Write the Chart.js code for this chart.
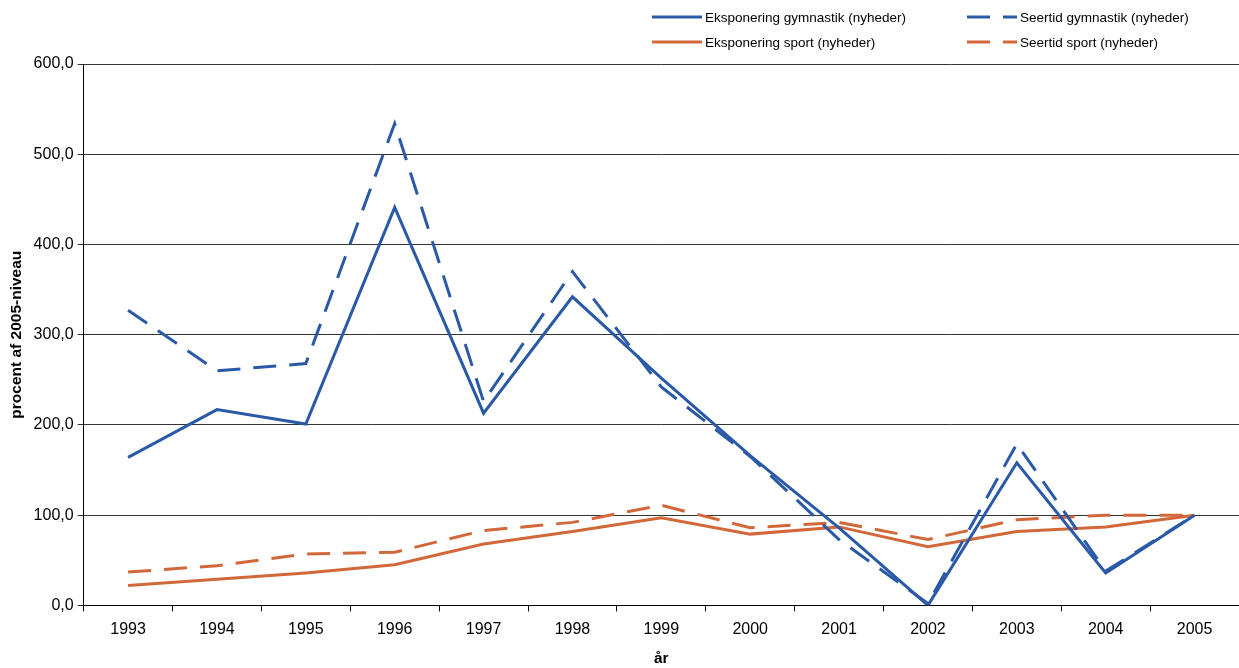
<!DOCTYPE html>
<html>
<head>
<meta charset="utf-8">
<script src="https://cdn.jsdelivr.net/npm/chart.js@4/dist/chart.umd.min.js"></script>
<style>
  html, body { margin: 0; padding: 0; background: #fff; }
  #wrap { width: 1239px; height: 668px; position: relative; }
</style>
</head>
<body>
<div id="wrap"><canvas id="chart"></canvas></div>
<script>
var years = ['1993', '1994', '1995', '1996', '1997', '1998', '1999', '2000', '2001', '2002', '2003', '2004', '2005'];

// procent af 2005-niveau
var eksGym    = [164, 217, 201, 441, 213, 342, 252, 166, 86, 0, 158, 36, 100];
var seerGym   = [327, 260, 268, 534, 226, 370, 242, 165, 73, 2, 179, 38, 100];
var eksSport  = [22, 29, 36, 45, 68, 82, 97, 79, 87, 65, 82, 87, 100];
var seerSport = [37, 44, 57, 59, 83, 92, 111, 86, 92, 73, 95, 100, 100];

var blue = '#2A5AA7';
var orange = '#D2683A';
var dash = [23, 13];
var font = '"Liberation Sans", Arial, sans-serif';

function line(label, values, color, dashed) {
  return {
    label: label,
    data: values,
    borderColor: color,
    backgroundColor: color,
    borderWidth: 3,
    borderDash: dashed ? dash : [],
    pointRadius: 0,
    tension: 0,
    fill: false
  };
}

// legend in two columns, like the original
var legendPlugin = {
  id: 'twoColLegend',
  afterDraw: function(chart) {
    var c = chart.ctx;
    var cols = [652, 967];
    var rows = [17, 42];
    c.save();
    c.font = '13.5px ' + font;
    c.textBaseline = 'middle';
    c.fillStyle = '#000';
    chart.data.datasets.forEach(function(ds, i) {
      var x = cols[i % 2], y = rows[Math.floor(i / 2)];
      c.strokeStyle = ds.borderColor;
      c.lineWidth = 3;
      c.setLineDash(ds.borderDash);
      c.beginPath();
      c.moveTo(x, y);
      c.lineTo(x + 50, y);
      c.stroke();
      c.setLineDash([]);
      c.fillText(ds.label, x + 53, y + 1);
    });
    c.restore();
  }
};

var ctx = document.getElementById('chart').getContext('2d');
var chart = new Chart(ctx, {
  type: 'line',
  data: {
    labels: years,
    datasets: [
      line('Eksponering gymnastik (nyheder)', eksGym, blue, false),
      line('Seertid gymnastik (nyheder)', seerGym, blue, true),
      line('Eksponering sport (nyheder)', eksSport, orange, false),
      line('Seertid sport (nyheder)', seerSport, orange, true)
    ]
  },
  options: {
    responsive: true,
    maintainAspectRatio: false,
    animation: false,
    layout: { padding: { top: 64, right: 0, left: 3, bottom: 0 } },
    plugins: {
      legend: { display: false },
      tooltip: { enabled: false }
    },
    scales: {
      x: {
        offset: true,
        grid: {
          offset: true,
          drawOnChartArea: false,
          color: '#000',
          tickLength: 6
        },
        border: { color: '#000', width: 1 },
        ticks: { color: '#000', font: { family: font, size: 16, lineHeight: 1 }, maxRotation: 0, padding: 10 },
        title: { display: true, text: 'år', color: '#000', font: { family: font, size: 15.5, weight: 'bold' }, padding: { top: 2, bottom: 0 } }
      },
      y: {
        min: 0,
        max: 600,
        grid: { color: '#333', tickLength: 6 },
        border: { color: '#000', width: 1 },
        ticks: {
          stepSize: 100,
          color: '#000',
          padding: 4,
          font: { family: font, size: 16 },
          callback: function(v) { return v.toFixed(1).replace('.', ','); }
        },
        title: { display: true, text: 'procent af 2005-niveau', color: '#000', font: { family: font, size: 15.5, weight: 'bold' } }
      }
    }
  },
  plugins: [legendPlugin]
});
</script>
</body>
</html>
